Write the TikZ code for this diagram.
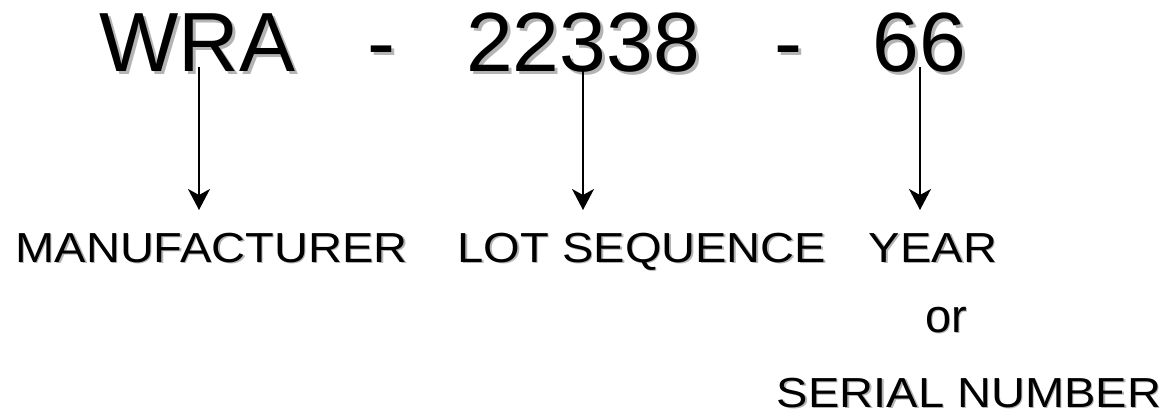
\documentclass[tikz,border=0pt]{standalone}
\usepackage{fontspec}
\setmainfont{Liberation Sans}
\usetikzlibrary{arrows.meta}
\definecolor{shadowgray}{HTML}{B4B4B4}
\tikzset{
  bigtxt/.style={anchor=base, inner sep=0pt, font=\fontsize{84}{84}\selectfont},
  smalltxt/.style={anchor=base, inner sep=0pt, font=\fontsize{42}{42}\selectfont},
  ortxt/.style={anchor=base, inner sep=0pt, font=\fontsize{47}{47}\selectfont},
  bigshadow/.style={text=shadowgray, xshift=3pt, yshift=-3pt},
  smallshadow/.style={text=shadowgray, xshift=1.5pt, yshift=-1.5pt},
  pointer/.style={line width=1.6pt, -{Stealth[length=21pt,width=22pt,inset=6pt]}}
}
\newcommand\wide[1]{\scalebox{1.12}[1]{#1}}
\begin{document}
\begin{tikzpicture}[x=1pt,y=-1pt]
\useasboundingbox (0,0) rectangle (1173,417);
% big code, shadows first
\node[bigtxt,bigshadow] at (197.5,72) {WRA};
\node[bigtxt,bigshadow] at (381,72) {-};
\node[bigtxt,bigshadow] at (583,72) {22338};
\node[bigtxt,bigshadow] at (788,72) {-};
\node[bigtxt,bigshadow] at (919.5,72) {66};
\node[bigtxt] (wra) at (197.5,72) {WRA};
\node[bigtxt] (d1) at (381,72) {-};
\node[bigtxt] (lot) at (583,72) {22338};
\node[bigtxt] (d2) at (788,72) {-};
\node[bigtxt] (yr) at (919.5,72) {66};
% labels
\node[smalltxt,smallshadow] at (211.5,262) {\wide{MANUFACTURER}};
\node[smalltxt,smallshadow] at (642,262) {\wide{LOT SEQUENCE}};
\node[smalltxt,smallshadow] at (933,262) {\wide{YEAR}};
\node[ortxt,smallshadow] at (946,332) {or};
\node[smalltxt,smallshadow] at (969,407) {\wide{SERIAL NUMBER}};
\node[smalltxt] (man) at (211.5,262) {\wide{MANUFACTURER}};
\node[smalltxt] (seq) at (642,262) {\wide{LOT SEQUENCE}};
\node[smalltxt] (year) at (933,262) {\wide{YEAR}};
\node[ortxt] (or) at (946,332) {or};
\node[smalltxt] (ser) at (969,407) {\wide{SERIAL NUMBER}};
% arrows
\coordinate (s1) at (199,67);
\coordinate (e1) at (199,210);
\coordinate (s2) at (583,67);
\coordinate (e2) at (583,210);
\coordinate (s3) at (920,67);
\coordinate (e3) at (920,210);
\draw[pointer] (s1) -- (e1);
\draw[pointer] (s2) -- (e2);
\draw[pointer] (s3) -- (e3);
\end{tikzpicture}
\end{document}
